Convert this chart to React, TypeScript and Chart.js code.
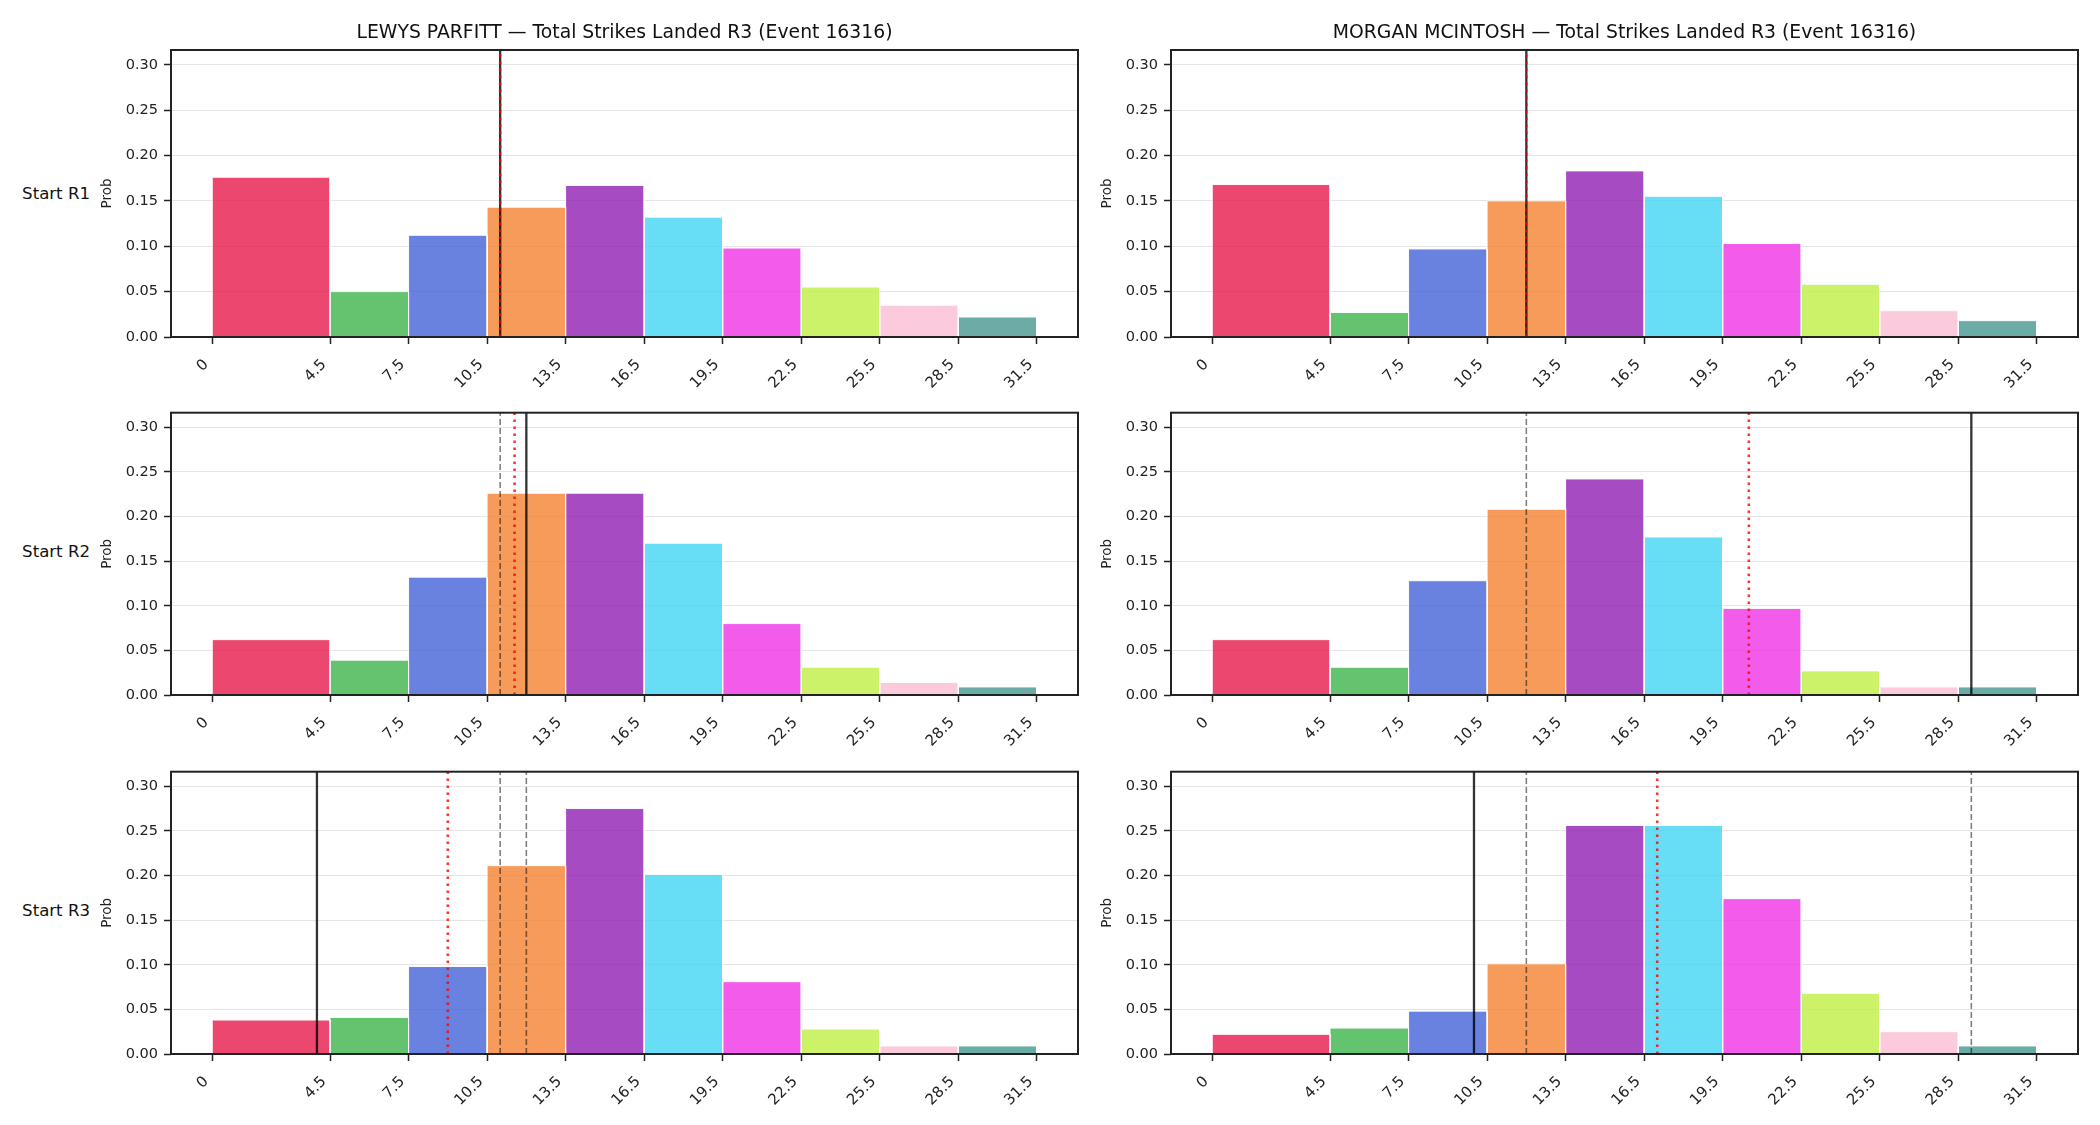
import React, { useEffect, useRef } from "react";
import { Chart, registerables } from "chart.js";

Chart.register(...registerables);

const FONT = "'DejaVu Sans', 'Liberation Sans', sans-serif";
Chart.defaults.font.family = FONT;

// ---------- data ----------
const BIN_EDGES = [0, 4.5, 7.5, 10.5, 13.5, 16.5, 19.5, 22.5, 25.5, 28.5, 31.5];
const BIN_COLORS = [
  "rgba(230,25,75,0.8)",
  "rgba(60,180,75,0.8)",
  "rgba(67,99,216,0.8)",
  "rgba(245,130,49,0.8)",
  "rgba(145,30,180,0.8)",
  "rgba(66,212,244,0.8)",
  "rgba(240,50,230,0.8)",
  "rgba(191,239,69,0.8)",
  "rgba(250,190,212,0.8)",
  "rgba(70,153,144,0.8)",
];
const Y_TICKS = [0, 0.05, 0.1, 0.15, 0.2, 0.25, 0.3];
const Y_MAX = 0.31625;
const X_MIN = -1.575;
const X_MAX = 33.075;

const FIGHTERS = ["LEWYS PARFITT", "MORGAN MCINTOSH"];
const TITLE_SUFFIX = " — Total Strikes Landed R3 (Event 16316)";
const ROW_LABELS = ["Start R1", "Start R2", "Start R3"];

// probabilities per bin, per starting round
const PARFITT_R1 = [0.176, 0.05, 0.112, 0.143, 0.167, 0.132, 0.098, 0.055, 0.035, 0.022];
const PARFITT_R2 = [0.062, 0.039, 0.132, 0.226, 0.226, 0.17, 0.08, 0.031, 0.014, 0.009];
const PARFITT_R3 = [0.038, 0.041, 0.098, 0.211, 0.275, 0.201, 0.081, 0.028, 0.009, 0.009];
const MCINTOSH_R1 = [0.168, 0.027, 0.097, 0.15, 0.183, 0.155, 0.103, 0.058, 0.029, 0.018];
const MCINTOSH_R2 = [0.062, 0.031, 0.128, 0.208, 0.242, 0.177, 0.097, 0.027, 0.009, 0.009];
const MCINTOSH_R3 = [0.022, 0.029, 0.048, 0.101, 0.256, 0.256, 0.174, 0.068, 0.025, 0.009];

// reference lines
const PARFITT_SOLID = [11, 12, 4];
const PARFITT_DOTTED = [11, 11.55, 9];
const PARFITT_DASHED = [[], [11], [11, 12]];
const MCINTOSH_SOLID = [12, 29, 10];
const MCINTOSH_DOTTED = [12, 20.5, 17];
const MCINTOSH_DASHED = [[], [12], [12, 29]];

// ---------- layout ----------
const AX_LEFT = [171, 1171];
const AX_W = 907;
const AX_TOP = [50, 408, 767];
const AX_H = 287;
const Y_SCALE_W = 80;
const PAD_R = 10;
const PAD_T = 10;
const X_SCALE_H = 70;
const TITLE_SIZE = 18.8;
const TITLE_PAD_TOP = 22;

const framePlugin = {
  id: "frame",
  afterDatasetsDraw(chart: any) {
    const { ctx, chartArea: a } = chart;
    ctx.save();
    ctx.strokeStyle = "#222";
    ctx.lineWidth = 2;
    ctx.strokeRect(a.left, a.top, a.right - a.left, a.bottom - a.top);
    ctx.restore();
  },
};

type PanelProps = {
  probs: number[];
  solid: number;
  dotted: number;
  dashed: number[];
  title: string | null;
  col: number;
  row: number;
};

function Panel({ probs, solid, dotted, dashed, title, col, row }: PanelProps) {
  const ref = useRef<HTMLCanvasElement>(null);
  const left = AX_LEFT[col] - Y_SCALE_W;
  const top = title ? 0 : AX_TOP[row] - PAD_T;
  const width = Y_SCALE_W + AX_W + PAD_R;
  const height = AX_TOP[row] - top + AX_H + X_SCALE_H;

  useEffect(() => {
    if (!ref.current) return;
    const datasets: any[] = [];
    probs.forEach((p, i) => {
      const x0 = BIN_EDGES[i];
      const x1 = BIN_EDGES[i + 1];
      datasets.push({
        data: [
          { x: x0, y: 0 },
          { x: x0, y: p },
          { x: x1, y: p },
          { x: x1, y: 0 },
        ],
        borderColor: "rgba(255,255,255,0.9)",
        borderWidth: 1,
        backgroundColor: BIN_COLORS[i],
        fill: "origin",
        pointRadius: 0,
        tension: 0,
        order: 3,
      });
    });
    dashed.forEach((v) => {
      datasets.push({
        data: [
          { x: v, y: 0 },
          { x: v, y: Y_MAX },
        ],
        borderColor: "rgba(0,0,0,0.5)",
        borderWidth: 1.6,
        borderDash: [6, 3],
        pointRadius: 0,
        fill: false,
        order: 2,
      });
    });
    datasets.push({
      data: [
        { x: solid, y: 0 },
        { x: solid, y: Y_MAX },
      ],
      borderColor: "rgba(0,0,0,0.8)",
      borderWidth: 2.3,
      pointRadius: 0,
      fill: false,
      order: 1,
    });
    datasets.push({
      data: [
        { x: dotted, y: 0 },
        { x: dotted, y: Y_MAX },
      ],
      borderColor: "rgba(255,0,0,0.8)",
      borderWidth: 2.6,
      borderDash: [2.6, 4.4],
      pointRadius: 0,
      fill: false,
      order: 0,
    });

    const chart = new Chart(ref.current, {
      type: "line",
      data: { datasets },
      plugins: [framePlugin],
      options: {
        animation: false,
        responsive: false,
        events: [],
        layout: { padding: { top: title ? 0 : PAD_T, right: PAD_R, left: 0, bottom: 0 } },
        plugins: {
          legend: { display: false },
          tooltip: { enabled: false },
          title: {
            display: !!title,
            text: title || "",
            fullSize: false,
            color: "#111",
            font: { size: TITLE_SIZE, weight: "normal", family: FONT, lineHeight: 1.2 },
            padding: { top: TITLE_PAD_TOP, bottom: AX_TOP[0] - TITLE_PAD_TOP - TITLE_SIZE * 1.2 },
          },
        },
        scales: {
          x: {
            type: "linear",
            min: X_MIN,
            max: X_MAX,
            afterBuildTicks: (s: any) => {
              s.ticks = BIN_EDGES.map((v) => ({ value: v }));
            },
            afterFit: (s: any) => {
              s.height = X_SCALE_H;
            },
            ticks: {
              autoSkip: false,
              minRotation: 45,
              maxRotation: 45,
              padding: 12,
              labelOffset: -6,
              color: "#222",
              font: { size: 15, family: FONT, lineHeight: 1.2 },
              callback: (v: any) => String(v),
            },
            grid: {
              drawOnChartArea: false,
              drawTicks: true,
              tickLength: 7,
              tickColor: "#222",
              tickWidth: 1.5,
            },
            border: { display: false },
          },
          y: {
            type: "linear",
            min: 0,
            max: Y_MAX,
            afterBuildTicks: (s: any) => {
              s.ticks = Y_TICKS.map((v) => ({ value: v }));
            },
            afterFit: (s: any) => {
              s.width = Y_SCALE_W;
            },
            ticks: {
              padding: 6,
              color: "#222",
              font: { size: 14.5, family: FONT },
              callback: (v: any) => Number(v).toFixed(2),
            },
            grid: {
              color: "rgba(0,0,0,0.1)",
              lineWidth: 1,
              drawTicks: true,
              tickLength: 7,
              tickColor: "#222",
              tickWidth: 1.5,
            },
            border: { display: false },
            title: {
              display: true,
              text: "Prob",
              color: "#222",
              font: { size: 13.5, family: FONT },
              padding: { top: 8, bottom: 0 },
            },
          },
        },
      },
    } as any);
    return () => chart.destroy();
  }, [probs, solid, dotted, dashed, title]);

  return (
    <canvas
      ref={ref}
      width={width}
      height={height}
      style={{ position: "absolute", left, top, width, height }}
    />
  );
}

const PANELS = [
  { probs: PARFITT_R1, solid: PARFITT_SOLID[0], dotted: PARFITT_DOTTED[0], dashed: PARFITT_DASHED[0], col: 0, row: 0 },
  { probs: MCINTOSH_R1, solid: MCINTOSH_SOLID[0], dotted: MCINTOSH_DOTTED[0], dashed: MCINTOSH_DASHED[0], col: 1, row: 0 },
  { probs: PARFITT_R2, solid: PARFITT_SOLID[1], dotted: PARFITT_DOTTED[1], dashed: PARFITT_DASHED[1], col: 0, row: 1 },
  { probs: MCINTOSH_R2, solid: MCINTOSH_SOLID[1], dotted: MCINTOSH_DOTTED[1], dashed: MCINTOSH_DASHED[1], col: 1, row: 1 },
  { probs: PARFITT_R3, solid: PARFITT_SOLID[2], dotted: PARFITT_DOTTED[2], dashed: PARFITT_DASHED[2], col: 0, row: 2 },
  { probs: MCINTOSH_R3, solid: MCINTOSH_SOLID[2], dotted: MCINTOSH_DOTTED[2], dashed: MCINTOSH_DASHED[2], col: 1, row: 2 },
];

export default function App() {
  return (
    <div
      style={{
        position: "absolute",
        left: 0,
        top: 0,
        width: 2100,
        height: 1125,
        background: "#fff",
        overflow: "hidden",
        fontFamily: FONT,
      }}
    >
      {PANELS.map((p, i) => (
        <Panel
          key={i}
          probs={p.probs}
          solid={p.solid}
          dotted={p.dotted}
          dashed={p.dashed}
          col={p.col}
          row={p.row}
          title={p.row === 0 ? FIGHTERS[p.col] + TITLE_SUFFIX : null}
        />
      ))}
      {ROW_LABELS.map((t, r) => (
        <div
          key={t}
          style={{
            position: "absolute",
            left: 0,
            width: 90,
            textAlign: "right",
            top: AX_TOP[r] + AX_H / 2 - 11,
            height: 22,
            lineHeight: "22px",
            fontSize: 16.6,
            color: "#111",
            whiteSpace: "nowrap",
          }}
        >
          {t}
        </div>
      ))}
    </div>
  );
}
